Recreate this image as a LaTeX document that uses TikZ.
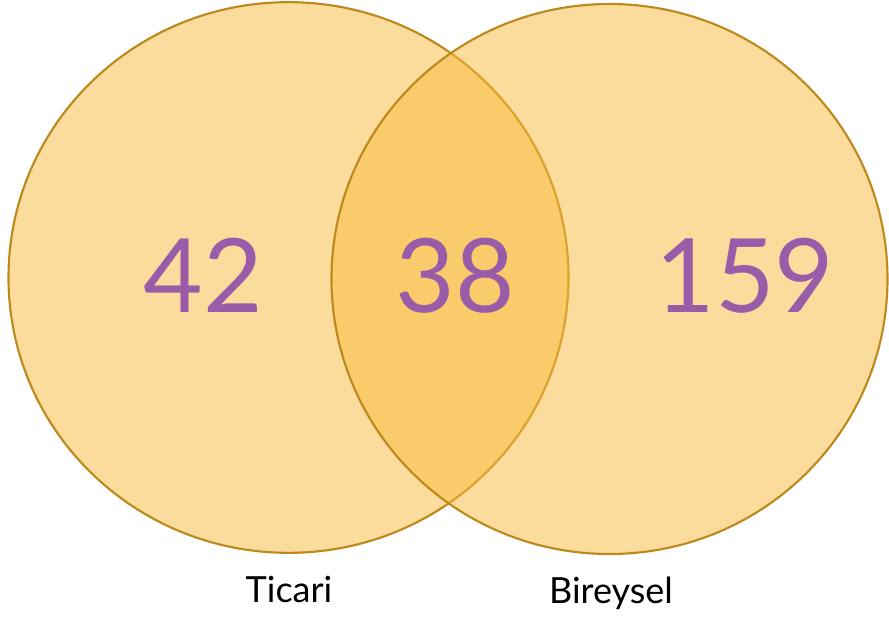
\documentclass[tikz,border=0pt]{standalone}
\usepackage{fontspec}
\setmainfont{Lato}
\usepackage{xcolor}
\usepackage{tikz}
\usetikzlibrary{positioning,shapes.geometric}
\definecolor{clrSet}{RGB}{248,186,58}
\definecolor{clrEdge}{RGB}{190,137,28}
\definecolor{clrNum}{RGB}{152,92,168}
\tikzset{
  setshape/.style={ellipse,draw=clrEdge,line width=1.6pt,fill=clrSet,
    fill opacity=0.5,inner sep=0pt},
  count/.style={font=\fontsize{77}{77}\selectfont,text=clrNum,inner sep=0pt},
  setlabel/.style={font=\fontsize{27}{27}\selectfont,anchor=base,inner sep=0pt}
}

\begin{document}
\begin{tikzpicture}[x=0.75pt,y=-0.75pt]
\useasboundingbox (0,0) rectangle (889,617);

% the two sets
\node[setshape,minimum width=420pt,minimum height=413pt] (ticari) at (288.5,277.5) {};
\node[setshape,minimum width=417pt,minimum height=412.5pt] (bireysel) at (609.5,279) {};

% counts
\node[count] (onlyT) at (203,275.5) {42};
\node[count] (both) at (455,275.5) {38};
\node[count] (onlyB) at (745,275.5) {159};

% set names
\node[setlabel] (labT) at (289,602) {Ticari};
\node[setlabel] (labB) at (611,603) {Bireysel};
\end{tikzpicture}
\end{document}
